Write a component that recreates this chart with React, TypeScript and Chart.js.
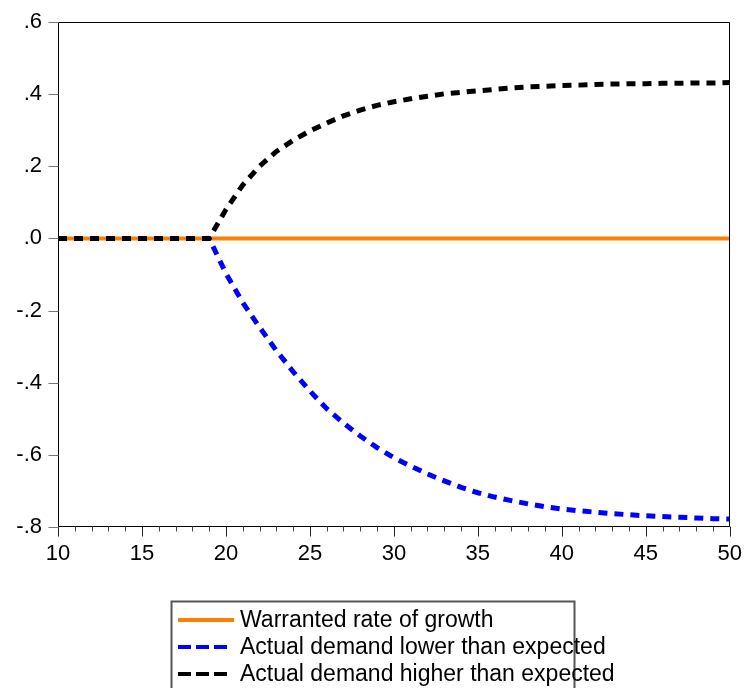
import React, { useEffect, useRef } from 'react';
import { Chart, registerables } from 'chart.js';

Chart.register(...registerables);

// ---- data ----
const periods = [
  10, 11, 12, 13, 14, 15, 16, 17, 18, 19,
  20, 21, 22, 23, 24, 25, 26, 27, 28, 29,
  30, 31, 32, 33, 34, 35, 36, 37, 38, 39,
  40, 41, 42, 43, 44, 45, 46, 47, 48, 49, 50,
];

const warrantedGrowth = [
  0, 0, 0, 0, 0, 0, 0, 0, 0, 0,
  0, 0, 0, 0, 0, 0, 0, 0, 0, 0,
  0, 0, 0, 0, 0, 0, 0, 0, 0, 0,
  0, 0, 0, 0, 0, 0, 0, 0, 0, 0, 0,
];

const demandLower = [
  0, 0, 0, 0, 0, 0, 0, 0, 0, 0,
  -0.097, -0.178, -0.246, -0.311, -0.369, -0.423, -0.472, -0.512, -0.548, -0.580,
  -0.608, -0.631, -0.653, -0.672, -0.690, -0.705, -0.717, -0.727, -0.736, -0.744,
  -0.750, -0.755, -0.759, -0.763, -0.766, -0.769, -0.771, -0.773, -0.775, -0.777, -0.778,
];

const demandHigher = [
  0, 0, 0, 0, 0, 0, 0, 0, 0, 0,
  0.080, 0.148, 0.200, 0.241, 0.272, 0.298, 0.320, 0.340, 0.356, 0.369,
  0.379, 0.387, 0.394, 0.401, 0.405, 0.409, 0.413, 0.417, 0.420, 0.422,
  0.424, 0.425, 0.427, 0.428, 0.429, 0.429, 0.430, 0.430, 0.431, 0.431, 0.432,
];

const seriesNames = [
  'Warranted rate of growth',
  'Actual demand lower than expected',
  'Actual demand higher than expected',
];

const xMin = 10;
const xMax = 50;
const xLabelEvery = 5;
const yMin = -0.8;
const yMax = 0.6;
const yStep = 0.2;

// ---- styles ----
const FONT = '"Liberation Sans", Arial, sans-serif';
const ORANGE = '#FF8000';
const BLUE = '#0000FF';
const BLACK = '#000000';

function formatY(v: number): string {
  const r = Math.round(v * 10) / 10;
  if (r === 0) return '.0';
  const s = Math.abs(r).toFixed(1).replace(/^0/, '');
  return r < 0 ? '-' + s : s;
}

const framePlugin = {
  id: 'frameTicksLegend',
  afterDraw(chart: any) {
    const { ctx, chartArea: a, scales } = chart;
    const xs = scales.x;
    const ys = scales.y;
    ctx.save();
    // frame
    const L = Math.round(a.left) + 0.5;
    const T = Math.round(a.top) + 0.5;
    const R = Math.round(a.right) - 0.5;
    const B = Math.round(a.bottom) - 0.5;
    ctx.strokeStyle = '#000';
    ctx.lineWidth = 1;
    ctx.beginPath();
    ctx.moveTo(L, B);
    ctx.lineTo(L, T);
    ctx.lineTo(R, T);
    ctx.lineTo(R, B);
    ctx.lineTo(L, B);
    ctx.stroke();

    // x ticks (major every 5, minor every 1)
    periods.forEach((p) => {
      const px = Math.round(xs.getPixelForValue(p)) + 0.5;
      const major = p % xLabelEvery === 0;
      ctx.strokeStyle = major ? '#222' : '#444';
      ctx.beginPath();
      ctx.moveTo(px, B);
      ctx.lineTo(px, B + (major ? 10 : 5));
      ctx.stroke();
    });

    // y ticks
    ys.ticks.forEach((t: any) => {
      const py = Math.round(ys.getPixelForValue(t.value)) + 0.5;
      ctx.strokeStyle = '#777';
      ctx.beginPath();
      ctx.moveTo(L - 10, py);
      ctx.lineTo(L, py);
      ctx.stroke();
    });

    // legend
    const bx = 171.5;
    const by = 601.5;
    const bw = 403;
    ctx.strokeStyle = '#555';
    ctx.lineWidth = 2;
    ctx.beginPath();
    ctx.moveTo(bx, chart.height + 5);
    ctx.lineTo(bx, by);
    ctx.lineTo(bx + bw, by);
    ctx.lineTo(bx + bw, chart.height + 5);
    ctx.stroke();

    const rows = [620, 647, 674];
    const colors = [ORANGE, BLUE, BLACK];
    ctx.font = '23px ' + FONT;
    ctx.fillStyle = '#000';
    ctx.textBaseline = 'middle';
    ctx.textAlign = 'left';
    seriesNames.forEach((name, i) => {
      ctx.strokeStyle = colors[i];
      ctx.lineWidth = 4;
      ctx.beginPath();
      if (i === 0) {
        ctx.setLineDash([]);
        ctx.moveTo(178, rows[i]);
        ctx.lineTo(234, rows[i]);
      } else {
        ctx.setLineDash([13, 5]);
        ctx.moveTo(178, rows[i]);
        ctx.lineTo(227, rows[i]);
      }
      ctx.stroke();
      ctx.setLineDash([]);
      ctx.fillText(name, 240, rows[i] + 1);
    });
    ctx.restore();
  },
};

export default function App() {
  const canvasRef = useRef<HTMLCanvasElement | null>(null);

  useEffect(() => {
    document.body.style.margin = '0';
    const canvas = canvasRef.current;
    if (!canvas) return;
    const toXY = (vals: number[]) => periods.map((p, i) => ({ x: p, y: vals[i] }));
    const chart = new Chart(canvas, {
      type: 'line',
      data: {
        datasets: [
          {
            label: seriesNames[0],
            data: toXY(warrantedGrowth),
            borderColor: ORANGE,
            borderWidth: 4,
            pointRadius: 0,
            tension: 0,
            order: 3,
          },
          {
            label: seriesNames[1],
            data: toXY(demandLower),
            borderColor: BLUE,
            borderWidth: 5,
            borderDash: [9, 7],
            pointRadius: 0,
            tension: 0,
            order: 2,
          },
          {
            label: seriesNames[2],
            data: toXY(demandHigher),
            borderColor: BLACK,
            borderWidth: 5,
            borderDash: [9, 7],
            pointRadius: 0,
            tension: 0,
            order: 1,
          },
        ],
      },
      options: {
        animation: false,
        responsive: true,
        maintainAspectRatio: false,
        layout: { padding: { top: 22, right: 14, left: 0, bottom: 0 } },
        plugins: {
          legend: { display: false },
          tooltip: { enabled: false },
        },
        scales: {
          x: {
            type: 'linear',
            min: xMin,
            max: xMax,
            afterFit: (s: any) => {
              s.height = 161;
            },
            ticks: {
              stepSize: 1,
              autoSkip: false,
              maxRotation: 0,
              padding: 4,
              color: '#000',
              font: { family: FONT, size: 22 },
              callback: (v: any) => (Number(v) % xLabelEvery === 0 ? String(v) : ''),
            },
            grid: {
              drawOnChartArea: false,
              drawTicks: true,
              tickLength: 10,
              tickColor: 'transparent',
            },
            border: { display: false },
          },
          y: {
            type: 'linear',
            min: yMin,
            max: yMax,
            afterFit: (s: any) => {
              s.width = 58;
            },
            ticks: {
              stepSize: yStep,
              padding: 6,
              color: '#000',
              font: { family: FONT, size: 22 },
              callback: (v: any) => formatY(Number(v)),
            },
            grid: {
              drawOnChartArea: false,
              drawTicks: true,
              tickLength: 10,
              tickColor: 'transparent',
            },
            border: { display: false },
          },
        },
      },
      plugins: [framePlugin],
    });
    return () => chart.destroy();
  }, []);

  return (
    <div style={{ position: 'fixed', left: 0, top: 0, width: 746, height: 688, background: '#fff' }}>
      <canvas ref={canvasRef} />
    </div>
  );
}
